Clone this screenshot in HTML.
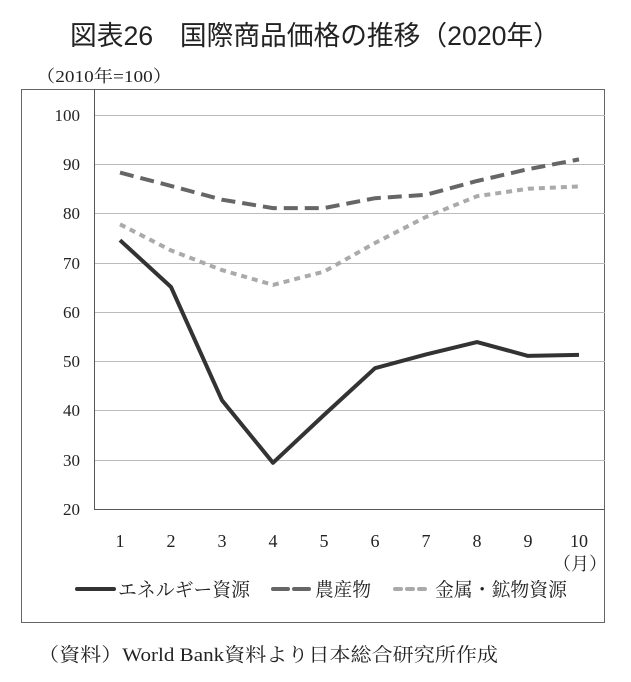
<!DOCTYPE html>
<html><head><meta charset="utf-8"><style>
body{margin:0;background:#fff;}
svg text{font-family:"Liberation Serif","Noto Serif CJK SC",serif;fill:#222;}
</style></head><body>
<svg width="631" height="677" viewBox="0 0 631 677" xmlns="http://www.w3.org/2000/svg">
<text x="70" y="45" textLength="490" lengthAdjust="spacingAndGlyphs" style="font-family:'Liberation Sans','Noto Sans CJK JP',sans-serif" font-size="27" fill="#222">図表26　国際商品価格の推移（2020年）</text>
<text x="36" y="82" font-size="17" textLength="136" lengthAdjust="spacingAndGlyphs">（2010年=100）</text>
<rect x="21.5" y="89.5" width="583" height="533" fill="none" stroke="#666" stroke-width="1"/>
<g stroke="#bbb" stroke-width="1">
<line x1="94" x2="605" y1="115.5" y2="115.5"/>
<line x1="94" x2="605" y1="164.5" y2="164.5"/>
<line x1="94" x2="605" y1="213.5" y2="213.5"/>
<line x1="94" x2="605" y1="263.5" y2="263.5"/>
<line x1="94" x2="605" y1="312.5" y2="312.5"/>
<line x1="94" x2="605" y1="361.5" y2="361.5"/>
<line x1="94" x2="605" y1="410.5" y2="410.5"/>
<line x1="94" x2="605" y1="460.5" y2="460.5"/>
</g>
<line x1="94.5" x2="94.5" y1="89" y2="509" stroke="#555"/>
<line x1="94" x2="605" y1="509.5" y2="509.5" stroke="#555"/>
<g font-size="17" text-anchor="end">
<text x="80" y="121">100</text><text x="80" y="170">90</text><text x="80" y="219">80</text><text x="80" y="269">70</text><text x="80" y="318">60</text><text x="80" y="367">50</text><text x="80" y="416">40</text><text x="80" y="466">30</text><text x="80" y="515">20</text>
</g>
<g font-size="18" text-anchor="middle">
<text x="120" y="547">1</text><text x="171" y="547">2</text><text x="222" y="547">3</text><text x="273" y="547">4</text><text x="324" y="547">5</text><text x="375" y="547">6</text><text x="426" y="547">7</text><text x="477" y="547">8</text><text x="528" y="547">9</text><text x="579" y="547">10</text>
<text x="580" y="570">（月）</text>
</g>
<polyline fill="none" stroke="#aaa" stroke-width="4" stroke-dasharray="6,5" points="120,224.3 171,250.4 222,270.1 273,284.9 324,271.6 375,243 426,216.9 477,196.2 528,188.8 579,186.4"/>
<polyline fill="none" stroke="#666" stroke-width="4" stroke-dasharray="14,7" points="120,172.6 171,185.9 222,199.7 273,208.1 324,208.1 375,198.2 426,194.8 477,181 528,169.2 579,159.4"/>
<polyline fill="none" stroke="#333" stroke-width="4" stroke-linejoin="round" points="120,240.2 171,287 222,400.3 273,462.8 324,415 375,368.2 426,354.4 477,342.1 528,355.9 579,354.9"/>
<line x1="77" x2="114" y1="589" y2="589" stroke="#333" stroke-width="4" stroke-linecap="round"/>
<text x="118" y="596" font-size="19" textLength="132" lengthAdjust="spacingAndGlyphs">エネルギー資源</text>
<line x1="273" x2="288" y1="589" y2="589" stroke="#666" stroke-width="4" stroke-linecap="round"/>
<line x1="294" x2="309" y1="589" y2="589" stroke="#666" stroke-width="4" stroke-linecap="round"/>
<text x="315" y="596" font-size="19" textLength="56" lengthAdjust="spacingAndGlyphs">農産物</text>
<g stroke="#aaa" stroke-width="4" stroke-linecap="round"><line x1="395" x2="401" y1="589" y2="589"/><line x1="407" x2="413" y1="589" y2="589"/><line x1="419" x2="425" y1="589" y2="589"/></g>
<text x="435" y="596" font-size="19" textLength="132" lengthAdjust="spacingAndGlyphs">金属・鉱物資源</text>
<text x="38" y="661" font-size="19" textLength="460" lengthAdjust="spacingAndGlyphs">（資料）World Bank資料より日本総合研究所作成</text>
</svg>
</body></html>
